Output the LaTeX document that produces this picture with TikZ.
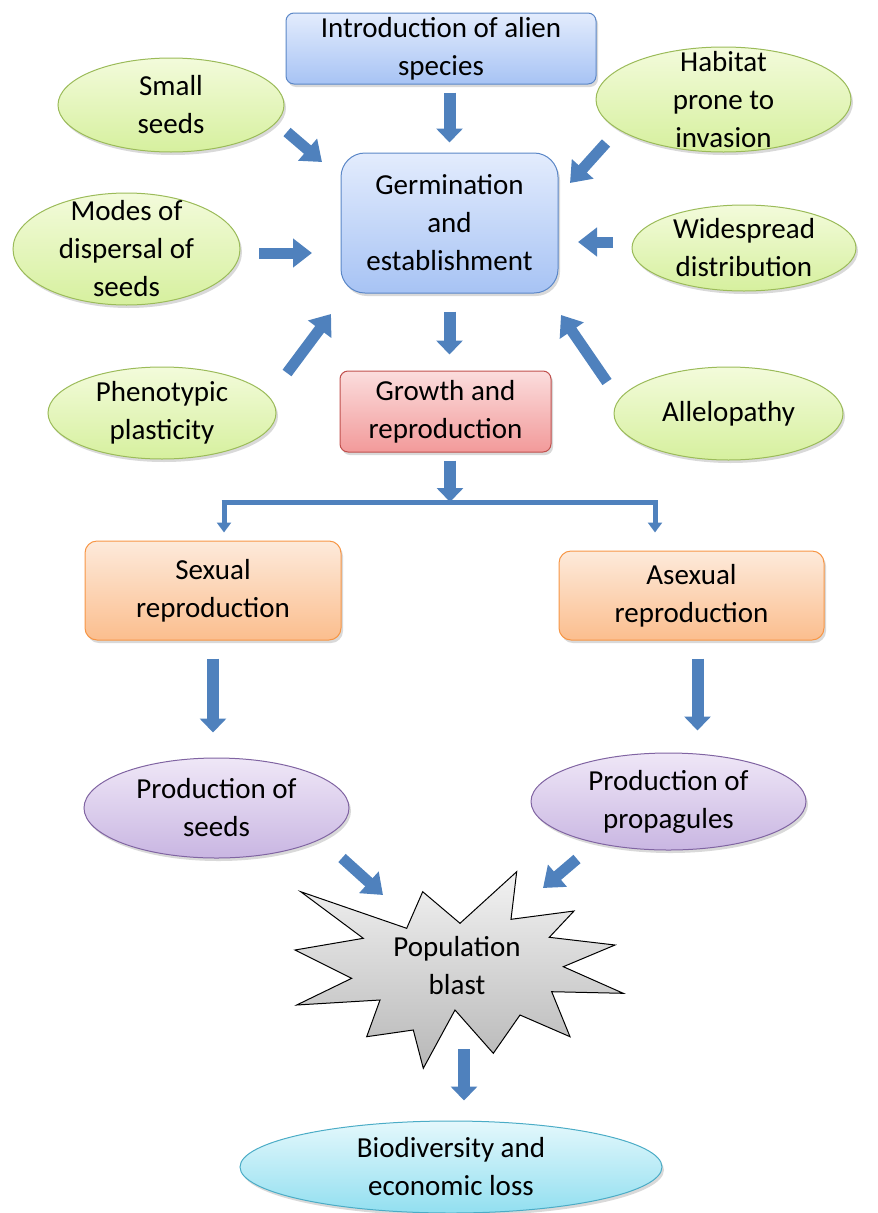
\documentclass[tikz,border=0pt]{standalone}
\usepackage{fontspec}
\setmainfont{Carlito}
\usetikzlibrary{arrows.meta, shadows, shapes.geometric}

\definecolor{arrowblue}{HTML}{4F81BD}
\definecolor{bluetop}{HTML}{E3ECFD}
\definecolor{bluebot}{HTML}{A7C3F4}
\definecolor{blueline}{HTML}{5B87C7}
\definecolor{greentop}{HTML}{F3FBDB}
\definecolor{greenbot}{HTML}{D6F09E}
\definecolor{greenline}{HTML}{9BBB59}
\definecolor{redtop}{HTML}{FBDDDD}
\definecolor{redbot}{HTML}{F29A9A}
\definecolor{redline}{HTML}{C0504D}
\definecolor{orangetop}{HTML}{FDEADB}
\definecolor{orangebot}{HTML}{FBBE8E}
\definecolor{orangeline}{HTML}{F79646}
\definecolor{purpletop}{HTML}{EFE7F7}
\definecolor{purplebot}{HTML}{C9B6E2}
\definecolor{purpleline}{HTML}{8064A2}
\definecolor{cyantop}{HTML}{E4F8FC}
\definecolor{cyanbot}{HTML}{92DFF0}
\definecolor{cyanline}{HTML}{4BACC6}

\begin{document}
\begin{tikzpicture}[
	x=1pt, y=-1pt,
	font=\fontsize{29}{38}\selectfont,
	shade/.style={drop shadow={shadow xshift=2pt, shadow yshift=-3pt, opacity=.25, fill=black!60}},
	box/.style={draw, line width=1pt, rounded corners=8pt, align=center, inner sep=0pt, shade},
	bluebox/.style={box, draw=blueline, top color=bluetop, bottom color=bluebot},
	redbox/.style={box, draw=redline, top color=redtop, bottom color=redbot},
	orangebox/.style={box, draw=orangeline, top color=orangetop, bottom color=orangebot, rounded corners=12pt},
	oval/.style={ellipse, draw, line width=1pt, inner sep=0pt, shade},
	leaf/.style={oval, draw=greenline, top color=greentop, bottom color=greenbot},
	yield/.style={oval, draw=purpleline, top color=purpletop, bottom color=purplebot},
	loss/.style={oval, draw=cyanline, top color=cyantop, bottom color=cyanbot},
	txt/.style={align=center, inner sep=0pt},
	blk/.style={draw=arrowblue, line width=11pt, -{Triangle[length=19pt, width=28pt]}},
	down/.style={draw=arrowblue, line width=12pt, -{Triangle[length=14pt, width=26pt]}},
	thin/.style={draw=arrowblue, line width=5pt, -{Triangle[length=10pt, width=14pt]}}
	]
	\useasboundingbox (0,0) rectangle (878,1213);

	% main chain
	\node[bluebox, minimum width=310, minimum height=71] (intro) at (441,48.5) {Introduction of alien\\species};
	\node[bluebox, rounded corners=24pt, minimum width=217, minimum height=140] (germ) at (449.5,223) {Germination\\and\\establishment};
	\node[redbox, minimum width=211, minimum height=81] (growth) at (445.5,411.5) {Growth and\\reproduction};
	\node[orangebox, minimum width=256, minimum height=99] (sexual) at (213,590.5) {Sexual\\reproduction};
	\node[orangebox, minimum width=265, minimum height=89] (asexual) at (691.5,595.5) {Asexual\\reproduction};

	% factors
	\node[leaf, minimum width=226, minimum height=94, label={[txt]center:{Small\\seeds}}] (small) at (171,105) {};
	\node[leaf, minimum width=255, minimum height=105, label={[txt]center:{Habitat\\prone to\\invasion}}] (habitat) at (723.5,99.5) {};
	\node[leaf, minimum width=227, minimum height=112, label={[txt]center:{Modes of\\dispersal of\\seeds}}] (modes) at (126.5,249) {};
	\node[leaf, minimum width=224, minimum height=86, label={[txt]center:{Widespread\\distribution}}] (wide) at (744,248) {};
	\node[leaf, minimum width=228, minimum height=92, label={[txt]center:{Phenotypic\\plasticity}}] (pheno) at (162,413) {};
	\node[leaf, minimum width=229, minimum height=93, label={[txt]center:{Allelopathy}}] (allelo) at (728.5,413.5) {};

	% outputs
	\node[yield, minimum width=265, minimum height=100, label={[txt]center:{Production of\\seeds}}] (seeds) at (216.5,808) {};
	\node[yield, minimum width=275, minimum height=97, label={[txt]center:{Production of\\propagules}}] (props) at (668.5,801.5) {};
	\node[loss, minimum width=422, minimum height=92, label={[txt]center:{Biodiversity and\\economic loss}}] (bio) at (451,1167) {};

	% starburst
	\draw[line width=1pt, top color=black!5, bottom color=black!28]
		(300.7,891.7) -- (406.7,928.3) -- (422.7,891.7) -- (460,923.3) -- (516.7,871.7)
		-- (511,919.3) -- (574,911) -- (549.3,937.3) -- (615,945) -- (563.3,966.7)
		-- (623.3,993.3) -- (551.7,991.7) -- (570,1036.7) -- (520,1015) -- (493.3,1053.3)
		-- (455,1010) -- (423.3,1068.3) -- (413.3,1030) -- (366.7,1036.7) -- (380,1000)
		-- (296.7,1005) -- (351.7,978.3) -- (295,950) -- (363.3,938.3) -- cycle;
	\node[txt] (blast) at (457,965.5) {Population\\blast};

	% arrow ends
	\coordinate (sm1) at (287,132);  \coordinate (sm2) at (322,162);
	\coordinate (hab1) at (606,143); \coordinate (hab2) at (570,183);
	\coordinate (mo1) at (259,253);  \coordinate (mo2) at (312,253);
	\coordinate (wi1) at (613,242);  \coordinate (wi2) at (578,242);
	\coordinate (ph1) at (287,373);  \coordinate (ph2) at (331,314);
	\coordinate (al1) at (607,382);  \coordinate (al2) at (561,315);
	\coordinate (se1) at (342,858);  \coordinate (se2) at (383,895);
	\coordinate (pr1) at (577,859);  \coordinate (pr2) at (543,888);
	\coordinate (barl) at (224,502); \coordinate (barm) at (450,502); \coordinate (barr) at (655,502);
	\coordinate (out) at (464,1049);

	\foreach \s in {sm,hab,mo,wi,ph,al,se,pr}
		\draw[blk] (\s1) -- (\s2);

	\draw[down, shorten <=8pt, shorten >=10pt] (intro.south -| germ) -- (germ.north);
	\draw[down, shorten <=18pt, shorten >=16pt] (germ.south) -- (germ.south |- growth.north);
	\draw[down, shorten <=8pt] (growth.south -| barm) -- (barm);
	\draw[draw=arrowblue, line width=5pt] ([xshift=-2.5pt]barl) -- ([xshift=2.5pt]barr);
	\draw[thin, shorten >=8pt] (barl) -- (barl |- sexual.north);
	\draw[thin, shorten >=18pt] (barr) -- (barr |- asexual.north);
	\draw[down, shorten <=18pt, shorten >=25pt] (sexual.south) -- (sexual.south |- seeds.north);
	\draw[down, shorten <=18pt, shorten >=22pt] ([xshift=6pt]asexual.south) -- ([xshift=6pt]asexual.south |- props.north);
	\draw[down, shorten >=20pt] (out) -- (out |- bio.north);
\end{tikzpicture}
\end{document}
